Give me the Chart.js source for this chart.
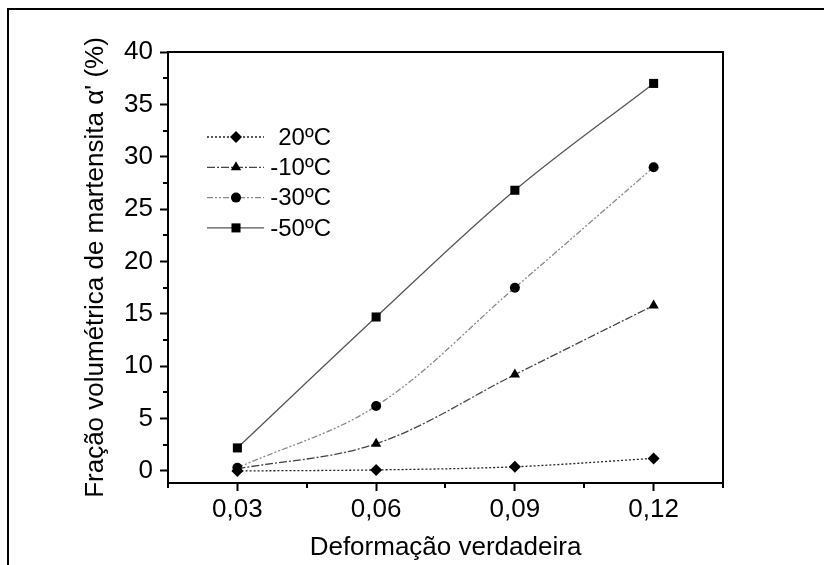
<!DOCTYPE html>
<html>
<head>
<meta charset="utf-8">
<script src="https://cdn.jsdelivr.net/npm/chart.js@4/dist/chart.umd.min.js"></script>
<style>
  html, body { margin: 0; padding: 0; background: #fff; }
  #wrap { width: 824px; height: 565px; position: relative; }
</style>
</head>
<body>
<div id="wrap"><canvas id="chart"></canvas></div>
<script>
// --- Data ---
const strainValues = [0.03, 0.06, 0.09, 0.12];
const seriesLabels = ['20ºC', '-10ºC', '-30ºC', '-50ºC'];
const values20 = [0.0, 0.1, 0.4, 1.2];
const valuesMinus10 = [0.2, 2.6, 9.2, 15.8];
const valuesMinus30 = [0.3, 6.2, 17.5, 29.0];
const valuesMinus50 = [2.2, 14.7, 26.8, 37.0];
const xTickValues = [0.03, 0.06, 0.09, 0.12];
const yTickValues = [0, 5, 10, 15, 20, 25, 30, 35, 40];

const FONT = '"Liberation Sans", Arial, sans-serif';

function toPoints(vals) {
    return vals.map((v, i) => ({ x: strainValues[i], y: v }));
}

function makeSet(label, vals, style, radius, lineColor, dash) {
    return {
        label: label,
        data: toPoints(vals),
        showLine: true,
        borderColor: lineColor,
        borderWidth: 1.3,
        borderDash: dash,
        tension: 0.35,
        pointStyle: style,
        pointRadius: radius,
        pointBackgroundColor: '#000',
        pointBorderColor: '#000',
        pointBorderWidth: 0
    };
}

// minor ticks, frame and legend drawn by hand
const extrasPlugin = {
    id: 'extras',
    afterDraw(chart) {
        const ctx = chart.ctx;
        const a = chart.chartArea;
        const xs = chart.scales.x, ys = chart.scales.y;
        ctx.save();
        ctx.strokeStyle = '#000';
        ctx.lineWidth = 2;
        // plot frame (top and right)
        ctx.beginPath();
        ctx.moveTo(a.left, a.top); ctx.lineTo(a.right, a.top); ctx.lineTo(a.right, a.bottom);
        ctx.stroke();
        // minor ticks
        ctx.beginPath();
        [0.015, 0.045, 0.075, 0.105, 0.135].forEach(v => {
            const px = Math.round(xs.getPixelForValue(v));
            ctx.moveTo(px, a.bottom); ctx.lineTo(px, a.bottom + 5);
        });
        [2.5, 7.5, 12.5, 17.5, 22.5, 27.5, 32.5, 37.5].forEach(v => {
            const py = Math.round(ys.getPixelForValue(v));
            ctx.moveTo(a.left, py); ctx.lineTo(a.left - 5, py);
        });
        ctx.stroke();
        // outer page frame
        ctx.beginPath();
        ctx.moveTo(8, 565); ctx.lineTo(8, 9); ctx.lineTo(824, 9);
        ctx.stroke();

        // legend
        ctx.font = '24px ' + FONT;
        ctx.textAlign = 'right';
        ctx.textBaseline = 'middle';
        chart.data.datasets.forEach((ds, i) => {
            const y = 137 + i * 30.3;
            ctx.save();
            ctx.strokeStyle = ds.borderColor;
            ctx.lineWidth = 1.3;
            ctx.setLineDash(ds.borderDash);
            ctx.beginPath();
            ctx.moveTo(207, y); ctx.lineTo(264, y);
            ctx.stroke();
            ctx.restore();
            ctx.fillStyle = '#000';
            Chart.helpers.drawPoint(ctx, { pointStyle: ds.pointStyle, radius: ds.pointRadius, rotation: 0, borderWidth: 0 }, 236, y);
            ctx.fillStyle = '#000';
            ctx.fillText(ds.label, 331, y + 1);
        });
        ctx.restore();
    }
};

window.onload = function () {
    const ctx = document.getElementById('chart').getContext('2d');
    new Chart(ctx, {
        type: 'scatter',
        data: {
            datasets: [
                makeSet(seriesLabels[0], values20, 'rectRot', 6, '#222', [2, 2]),
                makeSet(seriesLabels[1], valuesMinus10, 'triangle', 6, '#444', [8, 2, 2, 2]),
                makeSet(seriesLabels[2], valuesMinus30, 'circle', 5, '#888', [6, 2, 2, 2, 2, 2]),
                makeSet(seriesLabels[3], valuesMinus50, 'rect', 6.4, '#555', [])
            ]
        },
        options: {
            responsive: true,
            maintainAspectRatio: false,
            animation: false,
            layout: { padding: { left: 80, top: 52, right: 101, bottom: 2 } },
            plugins: { legend: { display: false }, tooltip: { enabled: false } },
            scales: {
                x: {
                    type: 'linear',
                    min: 0.015, max: 0.135,
                    afterFit: s => { s.height = 80; },
                    afterBuildTicks: s => { s.ticks = xTickValues.map(v => ({ value: v })); },
                    border: { color: '#000', width: 2 },
                    grid: { drawOnChartArea: false, color: '#000', tickLength: 8, tickWidth: 2 },
                    ticks: {
                        color: '#000', padding: 3,
                        font: { family: FONT, size: 26 },
                        maxRotation: 0,
                        callback: v => v.toFixed(2).replace('.', ',')
                    },
                    title: {
                        display: true, text: 'Deformação verdadeira', color: '#000',
                        font: { family: FONT, size: 26 }, padding: 0
                    }
                },
                y: {
                    min: -1.15, max: 40,
                    afterFit: s => { s.width = 88; },
                    afterBuildTicks: s => { s.ticks = yTickValues.map(v => ({ value: v })); },
                    border: { color: '#000', width: 2 },
                    grid: { drawOnChartArea: false, color: '#000', tickLength: 8, tickWidth: 2 },
                    ticks: {
                        color: '#000', padding: 7,
                        font: { family: FONT, size: 26 }
                    },
                    title: {
                        display: true, text: "Fração volumétrica de martensita α' (%)", color: '#000',
                        font: { family: FONT, size: 26 }, padding: 0
                    }
                }
            }
        },
        plugins: [extrasPlugin]
    });
};
</script>
</body>
</html>
